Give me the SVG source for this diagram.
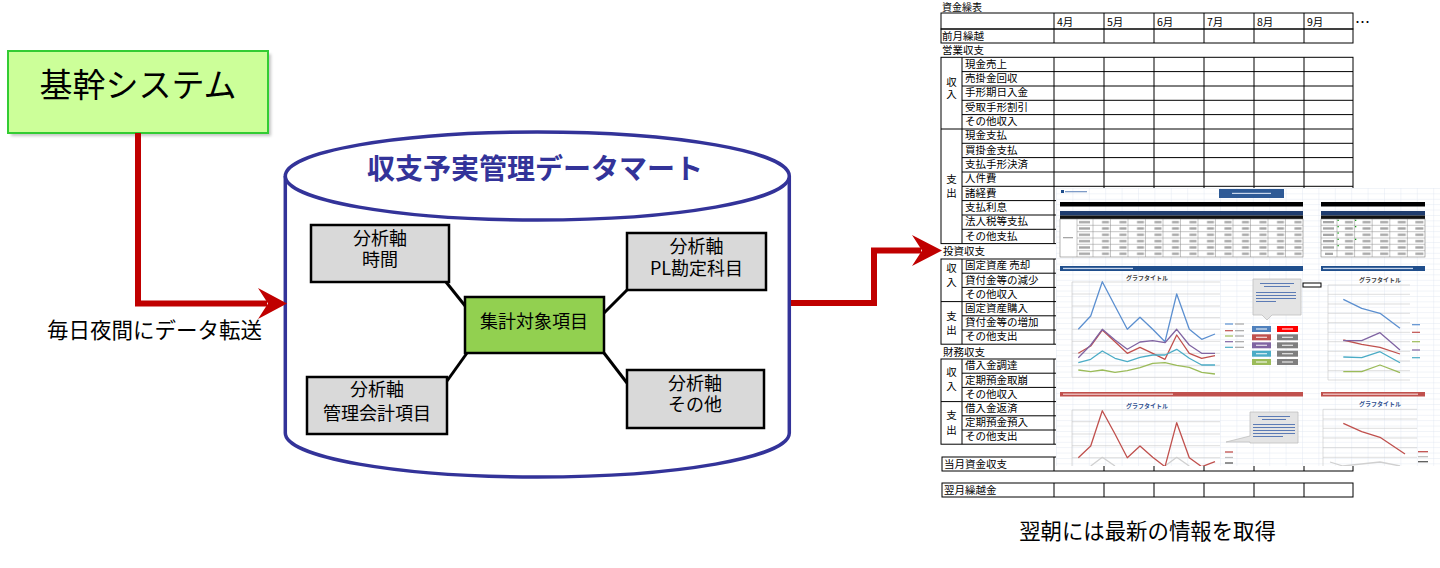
<svg xmlns="http://www.w3.org/2000/svg" width="1440" height="568" viewBox="0 0 1440 568">
<defs>
<style>
text{font-family:"Noto Sans CJK JP","Noto Sans",sans-serif;}
.ax rect{fill:#D9D9D9;stroke:#000;stroke-width:2.5}
.ax text{font-size:18px;text-anchor:middle;fill:#000}
.red{fill:none;stroke:#C00000;stroke-width:6;stroke-linejoin:miter}
.head{fill:#C00000}
.link{stroke:#000;stroke-width:3}
.tb line,.tb rect{stroke:#000;stroke-width:1;fill:none}
.tb text{font-size:10.5px;fill:#000}
.tb .g{text-anchor:middle}
.dl{fill:none;stroke-width:1.3;stroke-linejoin:round}
.gr line{stroke:#C8C8C8;stroke-width:0.6}
.ttl{font-size:6px;font-weight:bold;text-anchor:middle}
.cg line{stroke:#8C8C8C;stroke-width:0.5}
</style>
<pattern id="xl" x="1056" y="188" width="16.4" height="5.4" patternUnits="userSpaceOnUse">
<path d="M0 0.25H16.4M0.25 0V5.4" stroke="#DCE3EE" stroke-width="0.5" fill="none"/>
</pattern>
<pattern id="num" x="1093" y="219" width="17.5" height="6.33" patternUnits="userSpaceOnUse">
<rect x="9" y="2" width="7" height="2.3" fill="#A6A6A6"/>
</pattern>
<pattern id="num2" x="1337" y="219" width="17.6" height="6.33" patternUnits="userSpaceOnUse">
<rect x="8" y="2" width="8" height="2.3" fill="#A6A6A6"/>
</pattern>
<pattern id="lab" x="1077" y="219" width="16" height="6.33" patternUnits="userSpaceOnUse">
<rect x="2" y="2" width="11" height="2.3" fill="#A6A6A6"/>
</pattern>
<clipPath id="dash"><rect x="1056" y="188" width="384" height="278"/></clipPath>
<filter id="sh" x="-10%" y="-20%" width="130%" height="150%"><feGaussianBlur stdDeviation="1.6"/></filter>
</defs>

<rect width="1440" height="568" fill="#fff"/>

<g id="kikan">
<rect x="11" y="54" width="260" height="82" fill="#808080" opacity="0.45" filter="url(#sh)"/>
<rect x="8" y="51" width="260" height="82" fill="#CCFF99" stroke="#33CC33" stroke-width="2"/>
<text x="138" y="97" font-size="33" text-anchor="middle" fill="#000">基幹システム</text>
</g>

<g id="datamart">
<path d="M285.3 176V433A252 44 0 0 0 789.3 433V176" fill="#fff" stroke="#333399" stroke-width="3.5"/>
<ellipse cx="537.3" cy="176" rx="252" ry="44" fill="#fff" stroke="#333399" stroke-width="3.5"/>
<text x="535" y="179" font-size="28" font-weight="bold" fill="#333399" text-anchor="middle">収支予実管理データマート</text>
</g>

<g id="connectors">
<path class="red" d="M138 133V303.5H267"/>
<polygon class="head" points="258,288 287,303.5 258,319 268,303.5"/>
<path class="red" d="M791 303H874V250.5H921"/>
<polygon class="head" points="912,235 942,250.5 912,266 922,250.5"/>
<line class="link" x1="446" y1="282" x2="466" y2="307"/>
<line class="link" x1="604" y1="313" x2="627" y2="290"/>
<line class="link" x1="467" y1="353" x2="447" y2="381"/>
<line class="link" x1="604" y1="353" x2="627" y2="383"/>
</g>

<text id="label-transfer" x="154.5" y="338" font-size="21.5" text-anchor="middle" fill="#000">毎日夜間にデータ転送</text>

<g id="axis-time" class="ax">
<rect x="311" y="225" width="138" height="57"/>
<text x="380" y="245">分析軸<tspan x="380" y="266">時間</tspan></text>
</g>
<g id="axis-pl" class="ax">
<rect x="627" y="233" width="139" height="57"/>
<text x="696.5" y="253">分析軸<tspan x="696.5" y="275">PL勘定科目</tspan></text>
</g>
<g id="axis-mgmt" class="ax">
<rect x="307" y="377" width="140" height="57"/>
<text x="377" y="396">分析軸<tspan x="377" y="420">管理会計項目</tspan></text>
</g>
<g id="axis-other" class="ax">
<rect x="627" y="370" width="137" height="58"/>
<text x="695" y="390">分析軸<tspan x="695" y="411">その他</tspan></text>
</g>
<g id="aggregate" class="ax">
<rect x="465" y="297" width="139" height="56" style="fill:#92D050"/>
<text x="534" y="328">集計対象項目</text>
</g>

<g id="cashflow-table" class="tb">
<text x="942" y="11" style="font-size:10px">資金繰表</text>
<rect x="941" y="13" width="412" height="16"/>
<rect x="941" y="29" width="412" height="14"/>
<line x1="1054" y1="13" x2="1054" y2="43"/><line x1="1104" y1="13" x2="1104" y2="43"/><line x1="1154" y1="13" x2="1154" y2="43"/><line x1="1204" y1="13" x2="1204" y2="43"/><line x1="1254" y1="13" x2="1254" y2="43"/><line x1="1304" y1="13" x2="1304" y2="43"/>
<text x="1057" y="26">4月</text><text x="1107" y="26">5月</text><text x="1157" y="26">6月</text><text x="1207" y="26">7月</text><text x="1257" y="26">8月</text><text x="1307" y="26">9月</text>
<text x="1355" y="28" style="font-size:15px">…</text>
<text x="942" y="40">前月繰越</text>
<text x="942" y="53.5">営業収支</text>

<rect x="941" y="57.3" width="412" height="186.3"/>
<line x1="941" y1="129" x2="1353" y2="129"/>
<line x1="962" y1="57.3" x2="962" y2="243.6"/>
<line x1="1054" y1="57.3" x2="1054" y2="243.6"/><line x1="1104" y1="57.3" x2="1104" y2="243.6"/><line x1="1154" y1="57.3" x2="1154" y2="243.6"/><line x1="1204" y1="57.3" x2="1204" y2="243.6"/><line x1="1254" y1="57.3" x2="1254" y2="243.6"/><line x1="1304" y1="57.3" x2="1304" y2="243.6"/>
<line x1="962" y1="71.6" x2="1353" y2="71.6"/><line x1="962" y1="86" x2="1353" y2="86"/><line x1="962" y1="100.3" x2="1353" y2="100.3"/><line x1="962" y1="114.6" x2="1353" y2="114.6"/>
<line x1="962" y1="143.3" x2="1353" y2="143.3"/><line x1="962" y1="157.6" x2="1353" y2="157.6"/><line x1="962" y1="172" x2="1353" y2="172"/><line x1="962" y1="186.3" x2="1353" y2="186.3"/><line x1="962" y1="200.6" x2="1353" y2="200.6"/><line x1="962" y1="215" x2="1353" y2="215"/><line x1="962" y1="229.3" x2="1353" y2="229.3"/>
<text class="g" x="951.5" y="86">収<tspan x="951.5" y="98">入</tspan></text>
<text class="g" x="951.5" y="183">支<tspan x="951.5" y="197">出</tspan></text>
<text x="965" y="67.5">現金売上</text><text x="965" y="81.8">売掛金回収</text><text x="965" y="96.2">手形期日入金</text><text x="965" y="110.5">受取手形割引</text><text x="965" y="124.8">その他収入</text>
<text x="965" y="139.2">現金支払</text><text x="965" y="153.5">買掛金支払</text><text x="965" y="167.8">支払手形決済</text><text x="965" y="182.2">人件費</text><text x="965" y="196.5">諸経費</text><text x="965" y="210.8">支払利息</text><text x="965" y="225.2">法人税等支払</text><text x="965" y="239.5">その他支払</text>

<text x="943" y="254.5">投資収支</text>
<rect x="941" y="259" width="412" height="85.2"/>
<line x1="941" y1="301.6" x2="1353" y2="301.6"/>
<line x1="962" y1="259" x2="962" y2="344.2"/>
<line x1="1054" y1="259" x2="1054" y2="344.2"/>
<line x1="962" y1="273.2" x2="1353" y2="273.2"/><line x1="962" y1="287.4" x2="1353" y2="287.4"/><line x1="962" y1="315.8" x2="1353" y2="315.8"/><line x1="962" y1="330" x2="1353" y2="330"/>
<text class="g" x="951.5" y="272">収<tspan x="951.5" y="285.5">入</tspan></text>
<text class="g" x="951.5" y="320">支<tspan x="951.5" y="333.5">出</tspan></text>
<text x="965" y="269.3">固定資産 売却</text><text x="965" y="283.5">貸付金等の減少</text><text x="965" y="297.7">その他収入</text><text x="965" y="311.9">固定資産購入</text><text x="965" y="326.1">貸付金等の増加</text><text x="965" y="340.3">その他支出</text>

<text x="943" y="355.5">財務収支</text>
<rect x="941" y="359" width="412" height="85.2"/>
<line x1="941" y1="401.6" x2="1353" y2="401.6"/>
<line x1="962" y1="359" x2="962" y2="444.2"/>
<line x1="1054" y1="359" x2="1054" y2="444.2"/>
<line x1="962" y1="373.2" x2="1353" y2="373.2"/><line x1="962" y1="387.4" x2="1353" y2="387.4"/><line x1="962" y1="415.8" x2="1353" y2="415.8"/><line x1="962" y1="430" x2="1353" y2="430"/>
<text class="g" x="951.5" y="376">収<tspan x="951.5" y="390">入</tspan></text>
<text class="g" x="951.5" y="419">支<tspan x="951.5" y="434">出</tspan></text>
<text x="965" y="369.3">借入金調達</text><text x="965" y="383.5">定期預金取崩</text><text x="965" y="397.7">その他収入</text><text x="965" y="411.9">借入金返済</text><text x="965" y="426.1">定期預金預入</text><text x="965" y="440.3">その他支出</text>

<rect x="942" y="457" width="411" height="14"/>
<line x1="1054" y1="457" x2="1054" y2="471"/><line x1="1104" y1="457" x2="1104" y2="471"/><line x1="1154" y1="457" x2="1154" y2="471"/><line x1="1204" y1="457" x2="1204" y2="471"/><line x1="1254" y1="457" x2="1254" y2="471"/><line x1="1304" y1="457" x2="1304" y2="471"/>
<text x="944" y="467.5">当月資金収支</text>
<rect x="942" y="483" width="411" height="14"/>
<line x1="1054" y1="483" x2="1054" y2="497"/><line x1="1104" y1="483" x2="1104" y2="497"/><line x1="1154" y1="483" x2="1154" y2="497"/><line x1="1204" y1="483" x2="1204" y2="497"/><line x1="1254" y1="483" x2="1254" y2="497"/><line x1="1304" y1="483" x2="1304" y2="497"/>
<text x="944" y="494">翌月繰越金</text>
</g>

<g id="dashboard" clip-path="url(#dash)">
<rect x="1056" y="188" width="384" height="278" fill="#fff"/>
<rect x="1056" y="188" width="384" height="278" fill="url(#xl)"/>
<rect x="1061" y="190" width="3" height="3" fill="#1F4E8C"/>
<rect x="1065" y="191" width="22" height="1.3" fill="#7F9CC8"/>
<rect x="1219" y="189" width="65" height="9" fill="#2E5A96"/>
<rect x="1232" y="192.8" width="39" height="1.2" fill="#C8D6EC"/>
<rect x="1060" y="202" width="243" height="4.5" fill="#000"/>
<rect x="1321" y="202" width="104" height="4.5" fill="#000"/>
<rect x="1060" y="211" width="243" height="4.5" fill="#1F3C6E"/>
<rect x="1060" y="215.5" width="243" height="3.5" fill="#111"/>
<rect x="1060" y="219" width="243" height="38" fill="#fff" stroke="#7F7F7F" stroke-width="0.6"/>
<rect x="1093" y="219" width="210" height="38" fill="url(#num)"/>
<rect x="1077" y="219" width="16" height="38" fill="url(#lab)"/>
<rect x="1063" y="237" width="10" height="1.3" fill="#A6A6A6"/>
<g class="cg">
<line x1="1077" y1="225.3" x2="1303" y2="225.3"/><line x1="1077" y1="231.7" x2="1303" y2="231.7"/><line x1="1077" y1="238" x2="1303" y2="238"/><line x1="1077" y1="244.3" x2="1303" y2="244.3"/><line x1="1077" y1="250.7" x2="1303" y2="250.7"/>
<line x1="1077" y1="219" x2="1077" y2="257"/><line x1="1093" y1="219" x2="1093" y2="257"/><line x1="1110.5" y1="219" x2="1110.5" y2="257"/><line x1="1128" y1="219" x2="1128" y2="257"/><line x1="1145.5" y1="219" x2="1145.5" y2="257"/><line x1="1163" y1="219" x2="1163" y2="257"/><line x1="1180.5" y1="219" x2="1180.5" y2="257"/><line x1="1198" y1="219" x2="1198" y2="257"/><line x1="1215.5" y1="219" x2="1215.5" y2="257"/><line x1="1233" y1="219" x2="1233" y2="257"/><line x1="1250.5" y1="219" x2="1250.5" y2="257"/><line x1="1268" y1="219" x2="1268" y2="257"/><line x1="1285.5" y1="219" x2="1285.5" y2="257"/>
</g>
<rect x="1321" y="211" width="104" height="4.5" fill="#1F3C6E"/>
<rect x="1321" y="215.5" width="104" height="3.5" fill="#111"/>
<rect x="1321" y="219" width="104" height="38" fill="#fff" stroke="#7F7F7F" stroke-width="0.6"/>
<rect x="1337" y="219" width="88" height="38" fill="url(#num2)"/>
<g class="cg">
<line x1="1321" y1="225.3" x2="1425" y2="225.3"/><line x1="1321" y1="231.7" x2="1425" y2="231.7"/><line x1="1321" y1="238" x2="1425" y2="238"/><line x1="1321" y1="244.3" x2="1425" y2="244.3"/><line x1="1321" y1="250.7" x2="1425" y2="250.7"/>
<line x1="1337" y1="219" x2="1337" y2="257"/><line x1="1354.6" y1="219" x2="1354.6" y2="257"/><line x1="1372.2" y1="219" x2="1372.2" y2="257"/><line x1="1389.8" y1="219" x2="1389.8" y2="257"/><line x1="1407.4" y1="219" x2="1407.4" y2="257"/>
</g>
<rect x="1323" y="221" width="11" height="2.3" fill="#A6A6A6"/><rect x="1323" y="227.3" width="11" height="2.3" fill="#A6A6A6"/><rect x="1323" y="233.7" width="11" height="2.3" fill="#A6A6A6"/><rect x="1323" y="240" width="11" height="2.3" fill="#A6A6A6"/><rect x="1323" y="246.3" width="11" height="2.3" fill="#A6A6A6"/><rect x="1325" y="252.7" width="8" height="2.3" fill="#A6A6A6"/>
<g fill="#1E9E1E"><rect x="1337.5" y="219.7" width="1.3" height="1.3"/><rect x="1337.5" y="226" width="1.3" height="1.3"/><rect x="1337.5" y="232.4" width="1.3" height="1.3"/><rect x="1337.5" y="238.7" width="1.3" height="1.3"/><rect x="1337.5" y="245" width="1.3" height="1.3"/><rect x="1355" y="219.7" width="1.3" height="1.3"/><rect x="1355" y="226" width="1.3" height="1.3"/><rect x="1355" y="238.7" width="1.3" height="1.3"/></g>
<rect x="1060" y="266" width="243" height="5" fill="#1F4E8C"/>
<rect x="1321" y="266" width="104" height="5" fill="#1F4E8C"/>
<rect x="1063" y="267.8" width="70" height="1.3" fill="#C8D6EC"/>
<rect x="1323" y="267.8" width="90" height="1.3" fill="#C8D6EC"/>
<text class="ttl" x="1147" y="279.5" fill="#404040">グラフタイトル</text>
<g class="gr">
<line x1="1072" y1="282" x2="1220" y2="282"/><line x1="1072" y1="294" x2="1220" y2="294"/><line x1="1072" y1="306" x2="1220" y2="306"/><line x1="1072" y1="317.7" x2="1220" y2="317.7"/><line x1="1072" y1="329.3" x2="1220" y2="329.3"/><line x1="1072" y1="341.3" x2="1220" y2="341.3"/><line x1="1072" y1="353.3" x2="1220" y2="353.3"/><line x1="1072" y1="365.3" x2="1220" y2="365.3"/><line x1="1072" y1="377.3" x2="1220" y2="377.3"/>
<line x1="1072" y1="282" x2="1072" y2="377.3"/>
</g>
<polyline class="dl" stroke="#5B8FD0" points="1078.3,329.3 1090.7,316 1102.3,281.7 1115,306 1127.3,329.3 1140,317.3 1152.7,329.3 1165,341.7 1176.7,294 1189.3,329.3 1201.7,339.3 1215,334"/>
<polyline class="dl" stroke="#C0504D" points="1078.3,353.3 1090.7,346 1102.3,330 1115,341.7 1127.3,353.3 1140,347.3 1152.7,353.3 1165,359.3 1176.7,335 1189.3,353.3 1201.7,358.3 1215,355.7"/>
<polyline class="dl" stroke="#8064A2" points="1078.3,357.7 1090.7,345 1102.3,329.3 1115,340 1127.3,349.3 1140,342 1152.7,340.7 1165,342.7 1176.7,329.3 1189.3,345 1201.7,353.3 1215,353.3"/>
<polyline class="dl" stroke="#4BACC6" points="1078.3,362.7 1090.7,359.3 1102.3,351 1115,358.3 1127.3,361.7 1140,357.3 1152.7,355 1165,355 1176.7,349.3 1189.3,358.3 1201.7,365 1215,365"/>
<polyline class="dl" stroke="#9BBB59" points="1078.3,370 1090.7,371.7 1102.3,370 1115,372.3 1127.3,370.7 1140,367.7 1152.7,363.3 1165,362.7 1176.7,365.3 1189.3,367.3 1201.7,372.3 1215,374"/>
<g stroke-width="1.2">
<line x1="1225" y1="324" x2="1233" y2="324" stroke="#5B8FD0"/><line x1="1225" y1="330.7" x2="1233" y2="330.7" stroke="#C0504D"/><line x1="1225" y1="336" x2="1233" y2="336" stroke="#9BBB59"/><line x1="1225" y1="341.7" x2="1233" y2="341.7" stroke="#8064A2"/><line x1="1225" y1="347.3" x2="1233" y2="347.3" stroke="#4BACC6"/>
</g>
<g fill="#A6A6A6"><rect x="1235" y="323.4" width="9" height="1.2"/><rect x="1235" y="330.1" width="9" height="1.2"/><rect x="1235" y="335.4" width="9" height="1.2"/><rect x="1235" y="341.1" width="9" height="1.2"/><rect x="1235" y="346.7" width="9" height="1.2"/></g>
<rect x="1252" y="326" width="19" height="6" fill="#4F81BD"/><rect x="1252" y="334.3" width="19" height="6" fill="#C0504D"/><rect x="1252" y="342.3" width="19" height="6" fill="#8064A2"/><rect x="1252" y="350.7" width="19" height="6" fill="#4BACC6"/><rect x="1252" y="359" width="19" height="6" fill="#9BBB59"/>
<rect x="1277" y="326" width="21" height="6" fill="#FF0000"/><rect x="1277" y="334.3" width="21" height="6" fill="#7F7F7F"/><rect x="1277" y="342.3" width="21" height="6" fill="#7F7F7F"/><rect x="1277" y="350.7" width="21" height="6" fill="#7F7F7F"/><rect x="1277" y="359" width="21" height="6" fill="#7F7F7F"/>
<g fill="#fff" opacity="0.8"><rect x="1256" y="328.4" width="11" height="1.2"/><rect x="1256" y="336.7" width="11" height="1.2"/><rect x="1256" y="344.7" width="11" height="1.2"/><rect x="1256" y="353.1" width="11" height="1.2"/><rect x="1256" y="361.4" width="11" height="1.2"/><rect x="1282" y="328.4" width="11" height="1.2"/><rect x="1282" y="336.7" width="11" height="1.2"/><rect x="1282" y="344.7" width="11" height="1.2"/><rect x="1282" y="353.1" width="11" height="1.2"/><rect x="1282" y="361.4" width="11" height="1.2"/></g>
<path d="M1253 279H1301V315H1272L1267 320L1262 315H1253Z" fill="#E4E4E4" stroke="#BFBFBF" stroke-width="0.8"/>
<g fill="#5C7BB5"><rect x="1260" y="283" width="34" height="1"/><rect x="1264" y="286" width="26" height="1"/><rect x="1256" y="292" width="40" height="1"/><rect x="1256" y="295" width="40" height="1"/><rect x="1256" y="298" width="40" height="1"/><rect x="1256" y="301" width="20" height="1"/></g>
<rect x="1303" y="283" width="18" height="4" fill="#fff" stroke="#000" stroke-width="1"/>
<text class="ttl" x="1380" y="282" fill="#404040">グラフタイトル</text>
<g class="gr">
<line x1="1328" y1="285" x2="1410" y2="285"/><line x1="1328" y1="294.3" x2="1410" y2="294.3"/><line x1="1328" y1="304" x2="1410" y2="304"/><line x1="1328" y1="313.3" x2="1410" y2="313.3"/><line x1="1328" y1="322.7" x2="1410" y2="322.7"/><line x1="1328" y1="332.3" x2="1410" y2="332.3"/><line x1="1328" y1="341.7" x2="1410" y2="341.7"/><line x1="1328" y1="351.3" x2="1410" y2="351.3"/><line x1="1328" y1="361" x2="1410" y2="361"/><line x1="1328" y1="370.7" x2="1410" y2="370.7"/><line x1="1328" y1="380" x2="1410" y2="380"/>
<line x1="1328" y1="285" x2="1328" y2="380"/>
</g>
<polyline class="dl" stroke="#5B8FD0" points="1343.3,299.3 1361.7,308.3 1380,313.3 1400,328.3"/>
<polyline class="dl" stroke="#C0504D" points="1343.3,340 1361.7,344.3 1380,347.3 1400,354"/>
<polyline class="dl" stroke="#8064A2" points="1343.3,340.7 1361.7,340.7 1380,332.7 1400,350"/>
<polyline class="dl" stroke="#4BACC6" points="1343.3,357 1361.7,357.7 1380,351.7 1400,362.7"/>
<polyline class="dl" stroke="#9BBB59" points="1343.3,371.7 1361.7,371.7 1380,365 1400,372.7"/>
<g stroke-width="1.2">
<line x1="1412" y1="324.7" x2="1420" y2="324.7" stroke="#5B8FD0"/><line x1="1412" y1="332.3" x2="1420" y2="332.3" stroke="#C0504D"/><line x1="1412" y1="341.7" x2="1420" y2="341.7" stroke="#9BBB59"/><line x1="1412" y1="350" x2="1420" y2="350" stroke="#8064A2"/><line x1="1412" y1="357.7" x2="1420" y2="357.7" stroke="#4BACC6"/>
</g>
<rect x="1060" y="392" width="243" height="4.5" fill="#C0504D"/>
<rect x="1321" y="392" width="104" height="4.5" fill="#C0504D"/>
<rect x="1063" y="393.6" width="110" height="1.2" fill="#F2CFCE"/>
<rect x="1323" y="393.6" width="95" height="1.2" fill="#F2CFCE"/>
<text class="ttl" x="1147" y="407.5" fill="#2F4F8F">グラフタイトル</text>
<g class="gr">
<line x1="1072" y1="410" x2="1220" y2="410"/><line x1="1072" y1="421.7" x2="1220" y2="421.7"/><line x1="1072" y1="434" x2="1220" y2="434"/><line x1="1072" y1="445.7" x2="1220" y2="445.7"/><line x1="1072" y1="457.7" x2="1220" y2="457.7"/>
<line x1="1072" y1="410" x2="1072" y2="466"/>
</g>
<polyline class="dl" stroke="#D0D0D0" points="1090.7,466 1102.3,457.3 1115,466"/>
<polyline class="dl" stroke="#D0D0D0" points="1165,466 1176.7,457.3 1189.3,466"/>
<polyline class="dl" stroke="#C0504D" stroke-width="1.5" points="1078.3,457.7 1090.7,446 1102.3,410.7 1115,434 1127.3,457.7 1140,446 1152.7,457.3 1165,466.7 1176.7,422.7 1189.3,457.7 1201.7,466.7 1215,461.7"/>
<path d="M1250 412H1298V443H1250V442L1226 442L1250 436Z" fill="#E4E4E4" stroke="#BFBFBF" stroke-width="0.8"/>
<g fill="#5C7BB5"><rect x="1258" y="416" width="32" height="1"/><rect x="1262" y="419" width="24" height="1"/><rect x="1253" y="424" width="42" height="1"/><rect x="1253" y="427" width="42" height="1"/><rect x="1253" y="430" width="42" height="1"/><rect x="1253" y="433" width="42" height="1"/><rect x="1253" y="436" width="30" height="1"/></g>
<g stroke-width="1.3">
<line x1="1225" y1="452" x2="1233" y2="452" stroke="#C0504D"/><line x1="1225" y1="457.5" x2="1233" y2="457.5" stroke="#BFBFBF"/><line x1="1225" y1="463" x2="1233" y2="463" stroke="#595959"/>
</g>
<text class="ttl" x="1380" y="406" fill="#2F4F8F">グラフタイトル</text>
<g class="gr">
<line x1="1323" y1="409.3" x2="1417" y2="409.3"/><line x1="1323" y1="419" x2="1417" y2="419"/><line x1="1323" y1="428.3" x2="1417" y2="428.3"/><line x1="1323" y1="438" x2="1417" y2="438"/><line x1="1323" y1="447.7" x2="1417" y2="447.7"/><line x1="1323" y1="457.3" x2="1417" y2="457.3"/>
<line x1="1323" y1="409.3" x2="1323" y2="466"/>
</g>
<polyline class="dl" stroke="#C0504D" stroke-width="1.5" points="1343.3,423.3 1361.7,431.7 1380,437.3 1405,454"/>
<polyline class="dl" stroke="#D0D0D0" points="1330,462 1343,466 1380,462 1400,466"/>
<g stroke-width="1.3">
<line x1="1418" y1="451.7" x2="1428" y2="451.7" stroke="#C0504D"/><line x1="1418" y1="456.7" x2="1428" y2="456.7" stroke="#BFBFBF"/><line x1="1418" y1="461.7" x2="1428" y2="461.7" stroke="#595959"/>
</g>
</g>

<text id="label-result" x="1147.5" y="539" font-size="21.4" text-anchor="middle" fill="#000">翌朝には最新の情報を取得</text>
</svg>
